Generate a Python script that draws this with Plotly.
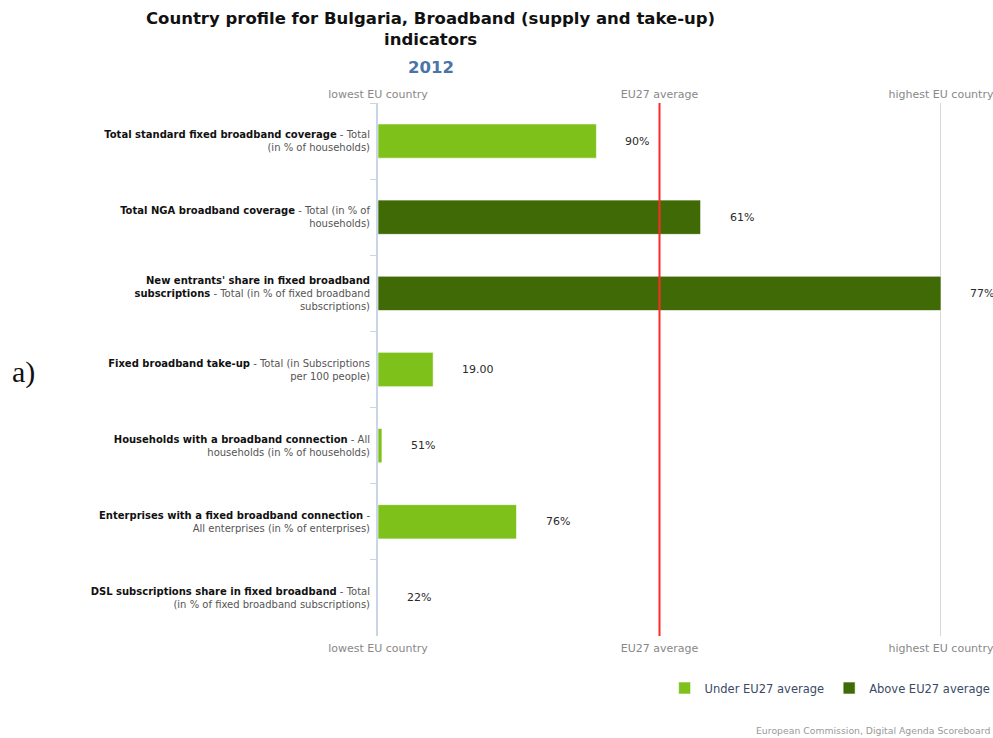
import plotly.graph_objects as go

bold_labels = [
    "Total standard fixed broadband coverage",
    "Total NGA broadband coverage",
    "New entrants' share in fixed broadband<br>subscriptions",
    "Fixed broadband take-up",
    "Households with a broadband connection",
    "Enterprises with a fixed broadband connection",
    "DSL subscriptions share in fixed broadband",
]
detail_labels = [
    " - Total<br>(in % of households)",
    " - Total (in % of<br>households)",
    " - Total (in % of fixed broadband<br>subscriptions)",
    " - Total (in Subscriptions<br>per 100 people)",
    " - All<br>households (in % of households)",
    " -<br>All enterprises (in % of enterprises)",
    " - Total<br>(in % of fixed broadband subscriptions)",
]
# position between lowest EU country (0) and highest EU country (1); EU27 average = 0.5
scaled_values = [0.388, 0.573, 1.0, 0.098, 0.007, 0.246, 0.0]
value_labels = ["90%", "61%", "77%", "19.00", "51%", "76%", "22%"]
above_average = [False, True, True, False, False, False, False]

axis_ticks = [0, 0.5, 1]
axis_ticktext = ["lowest EU country", "EU27 average", "highest EU country"]

LIGHT = "#7dc11a"
DARK = "#3f6a05"


def make_label(b, d):
    return f"<b>{b}</b><span style='color:#555555'>{d}</span>"


categories = [make_label(b, d) for b, d in zip(bold_labels, detail_labels)]

fig = go.Figure()
for flag, name, color in [(False, "Under EU27 average", LIGHT), (True, "Above EU27 average", DARK)]:
    ys = [c for c, a in zip(categories, above_average) if a == flag]
    xs = [v for v, a in zip(scaled_values, above_average) if a == flag]
    fig.add_trace(go.Bar(
        x=xs, y=ys, orientation="h", name=name,
        marker=dict(color=color, line=dict(color="rgba(255,255,255,0.6)", width=1)),
        width=0.45, hoverinfo="skip",
    ))

# invisible trace to activate top axis
fig.add_trace(go.Scatter(x=[0, 1], y=[categories[0], categories[0]], xaxis="x2",
                         mode="markers", marker=dict(opacity=0), showlegend=False,
                         hoverinfo="skip"))

for c, v, t in zip(categories, scaled_values, value_labels):
    fig.add_annotation(x=v, y=c, text=t, showarrow=False, xanchor="left",
                       xshift=27, font=dict(family="DejaVu Sans", size=11, color="#2a2a2a"))

# highest EU country reference line and EU27 average line
fig.add_shape(type="line", xref="x", yref="paper", x0=axis_ticks[2], x1=axis_ticks[2], y0=0, y1=1,
              line=dict(color="#d8d8d8", width=2), layer="below")
fig.add_shape(type="line", xref="x", yref="paper", x0=axis_ticks[1], x1=axis_ticks[1], y0=0, y1=1,
              line=dict(color="#ff2a2a", width=2))

axis_font = dict(family="DejaVu Sans", size=11, color="#888888")
fig.update_layout(
    width=993, height=738,
    margin=dict(l=378, r=52, t=103, b=102, autoexpand=False),
    paper_bgcolor="white", plot_bgcolor="white",
    barmode="overlay",
    xaxis=dict(range=[0, 1], tickvals=axis_ticks, ticktext=axis_ticktext,
               showgrid=False, zeroline=False,
               showline=False, ticks="", tickfont=axis_font, ticklabelstandoff=4,
               automargin=False, ticklabeloverflow="allow"),
    xaxis2=dict(range=[0, 1], tickvals=axis_ticks, ticktext=axis_ticktext,
                overlaying="x", side="top", showgrid=False, zeroline=False,
                showline=False, ticks="", tickfont=axis_font, ticklabelstandoff=2,
                automargin=False, ticklabeloverflow="allow"),
    yaxis=dict(autorange="reversed", categoryorder="array", categoryarray=categories,
               showline=True, linecolor="#c8d6e8", linewidth=2,
               ticks="outside", tickson="boundaries", ticklen=6, tickcolor="#c8d6e8",
               tickfont=dict(family="DejaVu Sans", size=10, color="#111111"),
               ticklabelstandoff=4, showgrid=False, automargin=False),
    legend=dict(orientation="h", x=1.097, xanchor="right", y=-0.0976, yanchor="middle",
                font=dict(family="DejaVu Sans", size=11.5, color="#3a4a66"),
                traceorder="normal"),
    showlegend=True,
)

fig.add_annotation(text="<b>Country profile for Bulgaria, Broadband (supply and take-up)<br>indicators</b>",
                   xref="paper", yref="paper", x=0.094, y=1.1388, xanchor="center",
                   yanchor="middle", showarrow=False,
                   font=dict(family="DejaVu Sans", size=16.5, color="#111111"))
fig.add_annotation(text="<b>2012</b>", xref="paper", yref="paper", x=0.094, y=1.0675,
                   xanchor="center", yanchor="middle", showarrow=False,
                   font=dict(family="DejaVu Sans", size=16.5, color="#4a74a8"))

fig.add_annotation(text="a)", xref="paper", yref="paper", x=-0.654, y=0.495, xanchor="left",
                   yanchor="middle", showarrow=False,
                   font=dict(family="Liberation Serif", size=30, color="#111111"))
fig.add_annotation(text="European Commission, Digital Agenda Scoreboard", xref="paper", yref="paper",
                   x=1.0906, y=-0.178, xanchor="right", yanchor="middle", showarrow=False,
                   font=dict(family="DejaVu Sans", size=9.3, color="#999999"))

fig.write_html("out.html",
               config={"displayModeBar": False},
               post_script="document.body.style.margin='0';"
                           "document.documentElement.style.overflow='hidden';")
